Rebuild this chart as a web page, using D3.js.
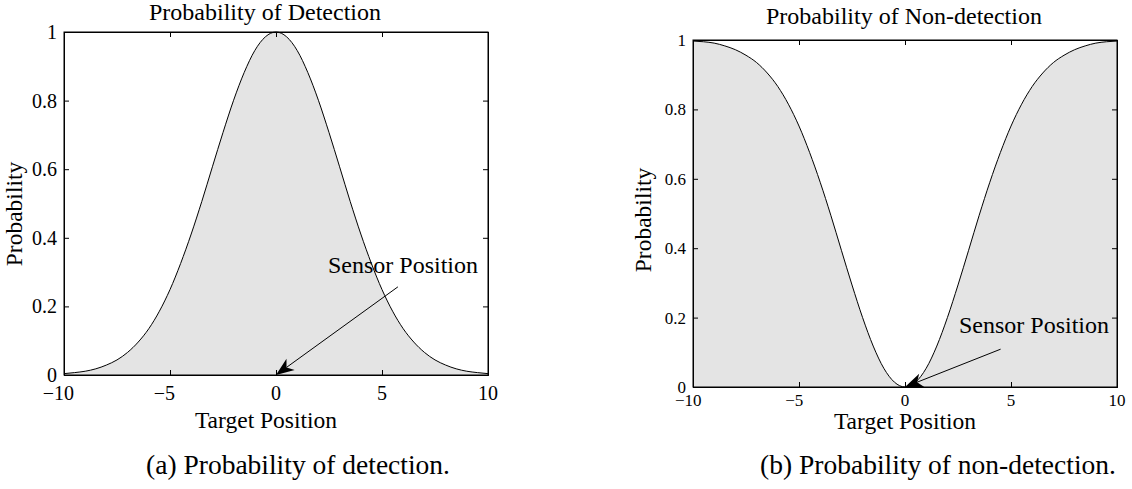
<!DOCTYPE html>
<html>
<head>
<meta charset="utf-8">
<script src="https://cdn.jsdelivr.net/npm/d3@7/dist/d3.min.js"></script>
<style>
  html, body { margin: 0; padding: 0; background: #fff; }
  svg { display: block; }
  text { font-family: "Liberation Serif", "Times New Roman", Times, serif; fill: #000; }
</style>
</head>
<body>
<svg id="fig" width="1132" height="489"></svg>
<script>
// Target positions sampled along the track
const targetPos = [-10, -9.5, -9, -8.5, -8, -7.5, -7, -6.5, -6, -5.5, -5, -4.5, -4, -3.5, -3, -2.5, -2, -1.5, -1, -0.5,
                   0, 0.5, 1, 1.5, 2, 2.5, 3, 3.5, 4, 4.5, 5, 5.5, 6, 6.5, 7, 7.5, 8, 8.5, 9, 9.5, 10];

// Probability of detection at each target position
const probDetection = [0.004, 0.007, 0.011, 0.018, 0.029, 0.044, 0.066, 0.096, 0.135, 0.186, 0.249, 0.325, 0.411, 0.506, 0.607, 0.707, 0.801, 0.882, 0.946, 0.986,
                       1.000, 0.986, 0.946, 0.882, 0.801, 0.707, 0.607, 0.506, 0.411, 0.325, 0.249, 0.186, 0.135, 0.096, 0.066, 0.044, 0.029, 0.018, 0.011, 0.007, 0.004];

// Probability of non-detection at each target position
const probNonDetection = [0.997, 0.995, 0.991, 0.983, 0.972, 0.956, 0.935, 0.905, 0.866, 0.815, 0.752, 0.676, 0.590, 0.495, 0.394, 0.294, 0.200, 0.118, 0.054, 0.014,
                          0.000, 0.014, 0.054, 0.118, 0.200, 0.294, 0.394, 0.495, 0.590, 0.676, 0.752, 0.815, 0.866, 0.905, 0.935, 0.956, 0.972, 0.983, 0.991, 0.995, 0.997];

// Axis ticks
const xTicks = [-10, -5, 0, 5, 10];
const xTickLabels = ["\u221210", "\u22125", "0", "5", "10"];
const yTicks = [0, 0.2, 0.4, 0.6, 0.8, 1];
const yTickLabels = ["0", "0.2", "0.4", "0.6", "0.8", "1"];

// Text
const titles = ["Probability of Detection", "Probability of Non-detection"];
const captions = ["(a) Probability of detection.", "(b) Probability of non-detection."];
const xLabel = "Target Position";
const yLabel = "Probability";
const annotation = "Sensor Position";
// Where the annotation arrow starts (data units); it points to the sensor at (0, 0)
const arrowFrom = [[5.75, 0.257], [4.51, 0.109]];

const svg = d3.select("#fig");

const panels = [
  {
    box: { left: 64, right: 488, top: 32, bottom: 375 },
    values: probDetection,
    title: titles[0], titleX: 265, titleY: 20, titleSize: 24,
    tickSize: 20, xTickY: 25, yTickGap: 7,
    xLabelX: 266, xLabelY: 428, labelSize: 23.5,
    yLabelX: 22, yLabelY: 214,
    noteX: 328, noteY: 273, noteSize: 24,
    arrow: arrowFrom[0],
    caption: captions[0], captionX: 298, captionY: 474
  },
  {
    box: { left: 693, right: 1117, top: 40, bottom: 387 },
    values: probNonDetection,
    title: titles[1], titleX: 904, titleY: 24, titleSize: 24,
    tickSize: 17, xTickY: 19, yTickGap: 7,
    xLabelX: 905, xLabelY: 429, labelSize: 23.5,
    yLabelX: 651, yLabelY: 220,
    noteX: 959, noteY: 333, noteSize: 24,
    arrow: arrowFrom[1],
    caption: captions[1], captionX: 938, captionY: 474
  }
];

function drawPanel(p) {
  const b = p.box;
  const x = d3.scaleLinear().domain([-10, 10]).range([b.left, b.right]);
  const y = d3.scaleLinear().domain([0, 1]).range([b.bottom, b.top]);
  const g = svg.append("g");

  const pts = targetPos.map((t, i) => [t, p.values[i]]);

  // shaded area under the curve
  g.append("path")
    .datum(pts)
    .attr("fill", "#e4e4e4")
    .attr("d", d3.area().x(d => x(d[0])).y0(y(0)).y1(d => y(d[1])).curve(d3.curveMonotoneX));

  // curve
  g.append("path")
    .datum(pts)
    .attr("fill", "none")
    .attr("stroke", "#000")
    .attr("stroke-width", 1)
    .attr("d", d3.line().x(d => x(d[0])).y(d => y(d[1])).curve(d3.curveMonotoneX));

  // axes with inward ticks on all four sides
  const tl = 5;
  const bottomAxis = d3.axisBottom(x).tickValues(xTicks).tickSize(-tl).tickFormat("");
  const topAxis = d3.axisTop(x).tickValues(xTicks).tickSize(-tl).tickFormat("");
  const leftAxis = d3.axisLeft(y).tickValues(yTicks).tickSize(-tl).tickFormat("");
  const rightAxis = d3.axisRight(y).tickValues(yTicks).tickSize(-tl).tickFormat("");

  const axes = [
    [bottomAxis, `translate(0,${b.bottom})`],
    [topAxis, `translate(0,${b.top})`],
    [leftAxis, `translate(${b.left},0)`],
    [rightAxis, `translate(${b.right},0)`]
  ];
  axes.forEach(([ax, tr]) => {
    const a = g.append("g").attr("transform", tr).call(ax);
    a.select(".domain").attr("stroke", "#000").attr("stroke-width", 1);
    a.selectAll(".tick line").attr("stroke", "#000").attr("stroke-width", 1);
  });
  // plot frame
  g.append("rect")
    .attr("x", b.left).attr("y", b.top)
    .attr("width", b.right - b.left).attr("height", b.bottom - b.top)
    .attr("fill", "none").attr("stroke", "#000").attr("stroke-width", 1);

  // x tick labels: digits centred on the tick, minus sign hanging to the left
  g.selectAll(".xt").data(xTicks).join("text")
    .attr("x", d => x(d))
    .attr("y", b.bottom + p.xTickY)
    .attr("dx", d => d < 0 ? "-0.282em" : 0)
    .attr("text-anchor", "middle")
    .attr("font-size", p.tickSize)
    .text((d, i) => xTickLabels[i]);

  // y tick labels
  g.selectAll(".yt").data(yTicks).join("text")
    .attr("x", b.left - p.yTickGap)
    .attr("y", d => y(d))
    .attr("dy", "0.35em")
    .attr("text-anchor", "end")
    .attr("font-size", p.tickSize)
    .text((d, i) => yTickLabels[i]);

  // title
  g.append("text")
    .attr("x", p.titleX).attr("y", p.titleY)
    .attr("text-anchor", "middle")
    .attr("font-size", p.titleSize)
    .text(p.title);

  // axis labels
  g.append("text")
    .attr("x", p.xLabelX).attr("y", p.xLabelY)
    .attr("text-anchor", "middle")
    .attr("font-size", p.labelSize)
    .text(xLabel);
  g.append("text")
    .attr("transform", `translate(${p.yLabelX},${p.yLabelY}) rotate(-90)`)
    .attr("text-anchor", "middle")
    .attr("font-size", p.labelSize)
    .text(yLabel);

  // annotation
  g.append("text")
    .attr("x", p.noteX).attr("y", p.noteY)
    .attr("font-size", p.noteSize)
    .text(annotation);

  const x0 = x(p.arrow[0]), y0 = y(p.arrow[1]);
  const x1 = x(0), y1 = y(0);
  const ang = Math.atan2(y1 - y0, x1 - x0) * 180 / Math.PI;
  const headLen = 18, headHalf = 7, notch = 13;
  const len = Math.hypot(x1 - x0, y1 - y0);
  g.append("line")
    .attr("x1", x0).attr("y1", y0)
    .attr("x2", x0 + (x1 - x0) * (len - notch) / len)
    .attr("y2", y0 + (y1 - y0) * (len - notch) / len)
    .attr("stroke", "#000").attr("stroke-width", 1);
  g.append("path")
    .attr("transform", `translate(${x1},${y1}) rotate(${ang})`)
    .attr("d", `M0,0 L${-headLen},${-headHalf} L${-notch},0 L${-headLen},${headHalf} Z`)
    .attr("fill", "#000");

  // caption
  svg.append("text")
    .attr("x", p.captionX).attr("y", p.captionY)
    .attr("text-anchor", "middle")
    .attr("font-size", 27.5)
    .text(p.caption);
}

panels.forEach(drawPanel);
</script>
</body>
</html>
